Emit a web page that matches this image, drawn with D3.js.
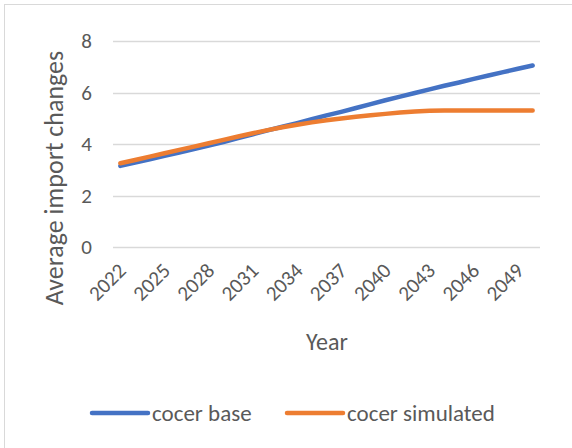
<!DOCTYPE html>
<html>
<head>
<meta charset="utf-8">
<script src="https://cdn.jsdelivr.net/npm/d3@7"></script>
<style>
  body { margin: 0; background: #fff; }
  text { font-family: Carlito, Calibri, Lato, "Open Sans", sans-serif; fill: #595959; }
</style>
</head>
<body>
<div id="chart"></div>
<script>
// data
const years = d3.range(2022, 2051);
const baseValues = [3.15, 3.28, 3.41, 3.54, 3.67, 3.80, 3.94, 4.08, 4.23, 4.38, 4.53, 4.67, 4.81, 4.96, 5.11, 5.25, 5.40, 5.55, 5.70, 5.84, 5.98, 6.12, 6.26, 6.39, 6.53, 6.66, 6.79, 6.92, 7.05];
const simValues = [3.25, 3.38, 3.51, 3.64, 3.77, 3.90, 4.03, 4.16, 4.29, 4.42, 4.54, 4.65, 4.75, 4.84, 4.92, 4.99, 5.06, 5.12, 5.17, 5.22, 5.26, 5.29, 5.30, 5.30, 5.30, 5.30, 5.30, 5.30, 5.30];
const yTicks = [0, 2, 4, 6, 8];
const seriesNames = ["cocer base", "cocer simulated"];
const colors = ["#4472C4", "#ED7D31"];

const W = 572, H = 448;
const plot = {left: 113, right: 540, top: 41, bottom: 247};

const svg = d3.select("#chart").append("svg")
    .attr("width", W)
    .attr("height", H);

// chart frame (only top and left edges fall inside the picture)
svg.append("rect")
    .attr("x", 4.5).attr("y", 4.5)
    .attr("width", W + 20).attr("height", H + 20)
    .attr("fill", "none")
    .attr("stroke", "#D9D9D9");

const x = d3.scaleBand()
    .domain(years)
    .range([plot.left, plot.right]);

const y = d3.scaleLinear()
    .domain([0, 8])
    .range([plot.bottom, plot.top]);

// gridlines
svg.append("g")
    .selectAll("line")
    .data(yTicks)
    .join("line")
    .attr("x1", plot.left).attr("x2", plot.right)
    .attr("y1", d => Math.round(y(d)) + 0.5)
    .attr("y2", d => Math.round(y(d)) + 0.5)
    .attr("stroke", "#D9D9D9")
    .attr("stroke-width", 1.5);

// y axis
const yAxis = svg.append("g")
    .attr("transform", "translate(" + plot.left + ",0)")
    .call(d3.axisLeft(y).tickValues(yTicks).tickSize(0).tickPadding(21));
yAxis.select(".domain").remove();
yAxis.selectAll("text")
    .attr("font-size", 21)
    .attr("fill", "#595959")
    .style("font-family", null);

// x axis
const xAxis = svg.append("g")
    .attr("transform", "translate(0," + plot.bottom + ")")
    .call(d3.axisBottom(x).tickValues(years.filter((d, i) => i % 3 === 0)).tickSize(0).tickPadding(0));
xAxis.select(".domain").remove();
xAxis.selectAll("text")
    .attr("font-size", 21)
    .attr("fill", "#595959")
    .style("font-family", null)
    .attr("text-anchor", "end")
    .attr("dy", 0)
    .attr("transform", "translate(7,25) rotate(-45)");

// axis titles
svg.append("text")
    .attr("transform", "translate(63,178) rotate(-90)")
    .attr("text-anchor", "middle")
    .attr("font-size", 26)
    .text("Average import changes");

svg.append("text")
    .attr("x", 327)
    .attr("y", 350)
    .attr("text-anchor", "middle")
    .attr("font-size", 24)
    .text("Year");

// lines
const line = d3.line()
    .x((d, i) => x(years[i]) + x.bandwidth() / 2)
    .y(d => y(d));

[baseValues, simValues].forEach((vals, i) => {
    svg.append("path")
        .datum(vals)
        .attr("d", line)
        .attr("fill", "none")
        .attr("stroke", colors[i])
        .attr("stroke-width", 4.5)
        .attr("stroke-linecap", "round")
        .attr("stroke-linejoin", "round");
});

// legend
const legendX = [92, 287];
const legend = svg.append("g");
seriesNames.forEach((name, i) => {
    legend.append("line")
        .attr("x1", legendX[i]).attr("x2", legendX[i] + 56)
        .attr("y1", 413).attr("y2", 413)
        .attr("stroke", colors[i])
        .attr("stroke-width", 4.5)
        .attr("stroke-linecap", "round");
    legend.append("text")
        .attr("x", legendX[i] + 60)
        .attr("y", 421)
        .attr("font-size", 23)
        .text(name);
});
</script>
</body>
</html>
